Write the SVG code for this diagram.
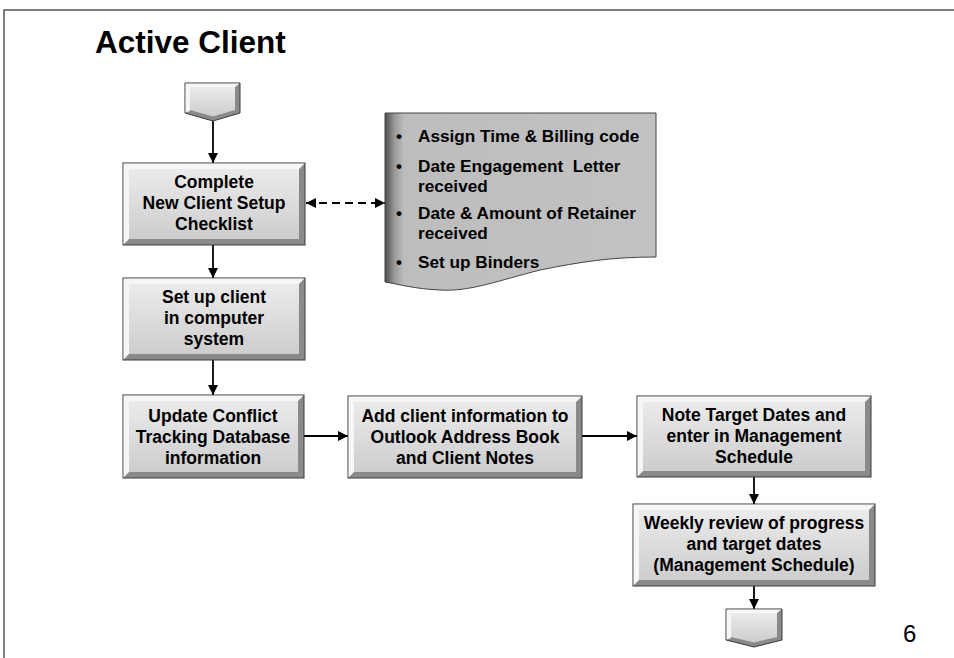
<svg xmlns="http://www.w3.org/2000/svg" width="954" height="658" viewBox="0 0 954 658">
  <defs>
    <linearGradient id="face" x1="0" y1="0" x2="0" y2="1">
      <stop offset="0" stop-color="#ebebeb"/>
      <stop offset="1" stop-color="#cdcdcd"/>
    </linearGradient>
    <linearGradient id="doc" x1="0" y1="0" x2="1" y2="0">
      <stop offset="0" stop-color="#4d4d4d"/>
      <stop offset="0.035" stop-color="#999"/>
      <stop offset="0.07" stop-color="#bdbdbd"/>
      <stop offset="1" stop-color="#c2c2c2"/>
    </linearGradient>
    <marker id="ah" viewBox="0 0 10 10" refX="10" refY="5" markerWidth="10" markerHeight="10" markerUnits="userSpaceOnUse" orient="auto-start-reverse">
      <path d="M0,0 L10,5 L0,10 z" fill="#000"/>
    </marker>
  </defs>
  <style>
    .frame { stroke: #555; stroke-width: 1.5; fill: none; }
    .edge { fill: #8a8a8a; stroke: #3a3a3a; stroke-width: 1; }
    .hi { fill: #f6f6f6; }
    .face { fill: url(#face); }
    .lbl { font-family: "Liberation Sans", Arial, sans-serif; font-weight: bold; font-size: 17.5px; fill: #000; text-anchor: middle; }
    .bul { font-family: "Liberation Sans", Arial, sans-serif; font-weight: bold; font-size: 17.2px; fill: #000; }
    .con { stroke: #000; stroke-width: 1.8; fill: none; marker-end: url(#ah); }
    .dash { stroke: #000; stroke-width: 1.8; fill: none; stroke-dasharray: 8 5; marker-start: url(#ah); marker-end: url(#ah); }
  </style>

  <!-- page frame -->
  <path class="frame" d="M954,10 L4,10 L4,658"/>

  <text x="95" y="53" font-family="Liberation Sans, Arial, sans-serif" font-weight="bold" font-size="31.5" fill="#000">Active Client</text>
  <text x="903" y="642" font-family="Liberation Sans, Arial, sans-serif" font-size="24" fill="#000">6</text>

  <!-- connectors -->
  <g id="connectors">
    <line class="con" x1="213" y1="121" x2="213" y2="163"/>
    <line class="con" x1="213" y1="245" x2="213" y2="278"/>
    <line class="con" x1="213" y1="360" x2="213" y2="395"/>
    <line class="con" x1="304" y1="436" x2="348" y2="436"/>
    <line class="con" x1="582" y1="436" x2="637" y2="436"/>
    <line class="con" x1="754" y1="477" x2="754" y2="504"/>
    <line class="con" x1="754" y1="586" x2="754" y2="609"/>
    <line class="dash" x1="306" y1="203" x2="385" y2="203"/>
  </g>

  <!-- start connector shape -->
  <g id="start">
    <polygon class="edge" points="185,83 240,83 240,113 213,121 185,113"/>
    <polygon class="hi" points="185.5,83.5 239.5,83.5 235,87 190,87 190,111 185.5,112.5"/>
    <polygon class="face" points="190,87 235,87 235,110 213,116.5 190,110"/>
  </g>

  <!-- end connector shape -->
  <g id="end">
    <polygon class="edge" points="726,609 782,609 782,640 754,647 726,640"/>
    <polygon class="hi" points="726.5,609.5 781.5,609.5 777,613 731,613 731,638 726.5,639.5"/>
    <polygon class="face" points="731,613 777,613 777,637 754,642.5 731,637"/>
  </g>

  <!-- checklist document -->
  <g id="checklist">
    <path d="M385,113 L656,113 L656,257 C610,257 580,262 540,270 C500,280 470,292 440,290 C415,289 398,284 385,282 Z" fill="url(#doc)" stroke="#444" stroke-width="1"/>
    <text class="bul" x="396" y="142">•</text>
    <text class="bul" x="418" y="142">Assign Time &amp; Billing code</text>
    <text class="bul" x="396" y="172">•</text>
    <text class="bul" x="418" y="172" xml:space="preserve">Date Engagement  Letter</text>
    <text class="bul" x="418" y="192">received</text>
    <text class="bul" x="396" y="219">•</text>
    <text class="bul" x="418" y="219">Date &amp; Amount of Retainer</text>
    <text class="bul" x="418" y="239">received</text>
    <text class="bul" x="396" y="268">•</text>
    <text class="bul" x="418" y="268">Set up Binders</text>
  </g>

  <g id="n1">
    <rect class="edge" x="123" y="163" width="182" height="82"/>
    <polygon class="hi" points="123.5,163.5 304.5,163.5 299,169 129,169 129,239 123.5,244.5"/>
    <rect class="face" x="129" y="169" width="170" height="70"/>
    <text class="lbl" x="214" y="188">Complete</text>
    <text class="lbl" x="214" y="209">New Client Setup</text>
    <text class="lbl" x="214" y="230">Checklist</text>
  </g>

  <g id="n2">
    <rect class="edge" x="123" y="278" width="182" height="82"/>
    <polygon class="hi" points="123.5,278.5 304.5,278.5 299,284 129,284 129,354 123.5,359.5"/>
    <rect class="face" x="129" y="284" width="170" height="70"/>
    <text class="lbl" x="214" y="303">Set up client</text>
    <text class="lbl" x="214" y="324">in computer</text>
    <text class="lbl" x="214" y="345">system</text>
  </g>

  <g id="n3">
    <rect class="edge" x="123" y="395" width="181" height="83"/>
    <polygon class="hi" points="123.5,395.5 303.5,395.5 298,401 129,401 129,472 123.5,477.5"/>
    <rect class="face" x="129" y="401" width="169" height="71"/>
    <text class="lbl" x="213" y="422">Update Conflict</text>
    <text class="lbl" x="213" y="443">Tracking Database</text>
    <text class="lbl" x="213" y="464">information</text>
  </g>

  <g id="n4">
    <rect class="edge" x="348" y="396" width="234" height="82"/>
    <polygon class="hi" points="348.5,396.5 581.5,396.5 576,402 354,402 354,472 348.5,477.5"/>
    <rect class="face" x="354" y="402" width="222" height="70"/>
    <text class="lbl" x="465" y="422">Add client information to</text>
    <text class="lbl" x="465" y="443">Outlook Address Book</text>
    <text class="lbl" x="465" y="464">and Client Notes</text>
  </g>

  <g id="n5">
    <rect class="edge" x="637" y="396" width="234" height="81"/>
    <polygon class="hi" points="637.5,396.5 870.5,396.5 865,402 643,402 643,471 637.5,476.5"/>
    <rect class="face" x="643" y="402" width="222" height="69"/>
    <text class="lbl" x="754" y="421">Note Target Dates and</text>
    <text class="lbl" x="754" y="442">enter in Management</text>
    <text class="lbl" x="754" y="463">Schedule</text>
  </g>

  <g id="n6">
    <rect class="edge" x="633" y="504" width="242" height="82"/>
    <polygon class="hi" points="633.5,504.5 874.5,504.5 869,510 639,510 639,580 633.5,585.5"/>
    <rect class="face" x="639" y="510" width="230" height="70"/>
    <text class="lbl" x="754" y="529">Weekly review of progress</text>
    <text class="lbl" x="754" y="550">and target dates</text>
    <text class="lbl" x="754" y="571">(Management Schedule)</text>
  </g>
</svg>
